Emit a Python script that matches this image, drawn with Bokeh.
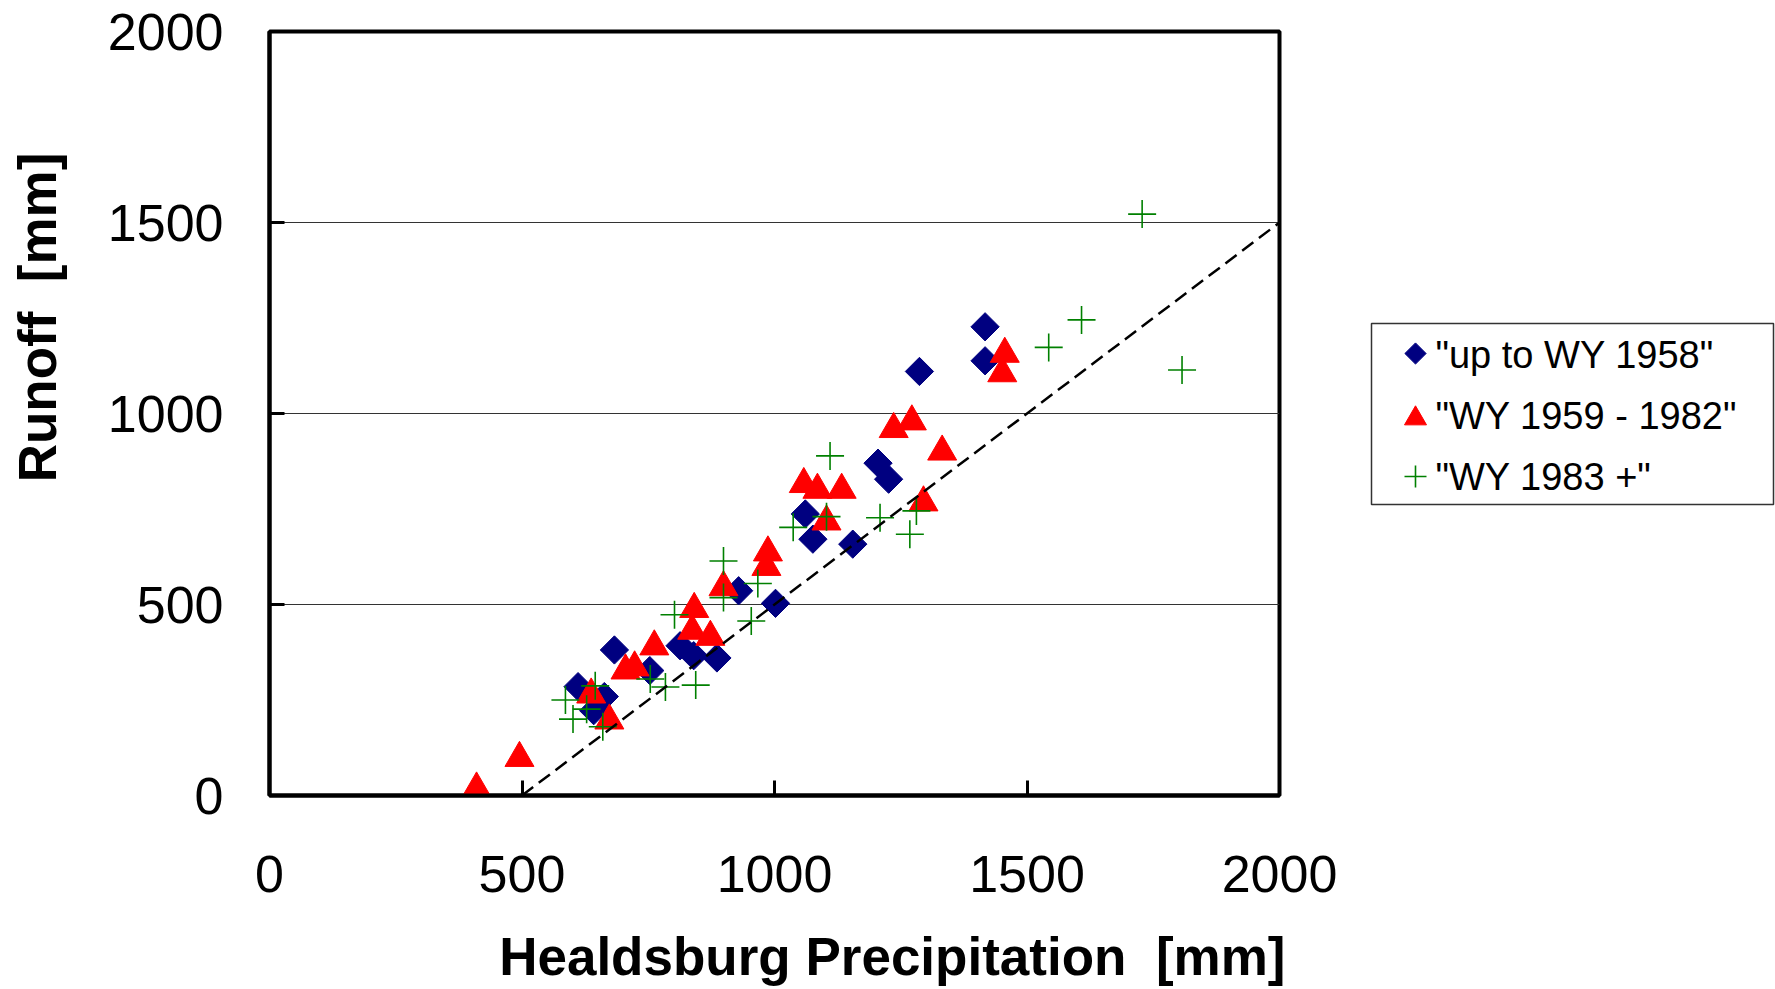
from bokeh.plotting import figure
from bokeh.models import Range1d, FixedTicker
from bokeh.core.properties import value
from bokeh.layouts import row
from bokeh.embed import file_html
from bokeh.resources import INLINE
import math

# ---- data ----
tick_values = [0, 500, 1000, 1500, 2000]

early_x = [611, 642, 663, 683, 753, 813, 840, 886, 929, 1002, 1061, 1076, 1155, 1205, 1226, 1287, 1417, 1417]
early_y = [285, 222, 259, 381, 327, 392, 366, 360, 536, 503, 737, 671, 658, 870, 828, 1110, 1138, 1227]

mid_x = [410, 495, 637, 673, 705, 723, 762, 837, 841, 873, 899, 984, 987, 1058, 1085, 1103, 1133, 1236, 1272, 1295, 1332, 1451, 1456]
mid_y = [18, 98, 264, 196, 327, 335, 390, 431, 488, 415, 545, 598, 636, 815, 800, 717, 800, 959, 979, 767, 900, 1105, 1156]

late_x = [586, 601, 628, 645, 660, 754, 784, 802, 844, 899, 899, 954, 967, 1037, 1103, 1110, 1209, 1268, 1281, 1543, 1608, 1728, 1807]
late_y = [250, 200, 226, 287, 180, 305, 284, 473, 289, 614, 518, 457, 555, 702, 730, 889, 727, 684, 745, 1173, 1245, 1522, 1114]

line_x = [500, 2000]
line_y = [0, 1500]

labels = ['"up to WY 1958"', '"WY 1959 - 1982"', '"WY 1983 +"']
x_title = "Healdsburg Precipitation \u00a0[mm]"
y_title = "Runoff \u00a0[mm]"

FONT = "Liberation Sans"
NAVY, RED, GREEN = "#000080", "#FF0000", "#008000"

# page geometry (pixels)
LEFT_W = 100          # strip holding the y-axis title
MAIN_W = 1249         # scatter plot (frame spans page x 269..1279)
LEG_W = 1775 - LEFT_W - MAIN_W
FRAME_TOP, FRAME_BOTTOM = 31, 795

# ---------------- y-axis title strip ----------------
ql = figure(width=LEFT_W, height=989, output_backend="svg", toolbar_location=None,
            x_range=Range1d(0, LEFT_W), y_range=Range1d(FRAME_BOTTOM, FRAME_TOP),
            x_axis_type=None, y_axis_type=None,
            min_border_left=0, min_border_right=0, min_border_top=0, min_border_bottom=0)
ql.outline_line_color = None
ql.grid.visible = False
ql.text([37], [317], text=[y_title], angle=math.pi / 2,
        text_font=value(FONT), text_font_size="53px", text_font_style="bold",
        text_color="black", text_align="center", text_baseline="middle")

# ---------------- main scatter plot ----------------
p = figure(width=MAIN_W, height=989, output_backend="svg", toolbar_location=None,
           x_range=Range1d(0, 2000), y_range=Range1d(0, 2000),
           min_border_left=269 - LEFT_W, min_border_right=LEFT_W + MAIN_W - 1279,
           min_border_top=FRAME_TOP, min_border_bottom=989 - FRAME_BOTTOM)
p.background_fill_color = "white"
p.border_fill_color = "white"
p.outline_line_color = "black"
p.outline_line_width = 4

for ax in (p.xaxis[0], p.yaxis[0]):
    ax.ticker = FixedTicker(ticks=tick_values)
    ax.minor_tick_line_color = None
    ax.major_tick_in = 15
    ax.major_tick_out = 0
    ax.major_tick_line_width = 3
    ax.major_tick_line_color = "black"
    ax.axis_line_width = 4
    ax.axis_line_color = "black"
    ax.major_label_text_font = FONT
    ax.major_label_text_font_size = "52px"
    ax.major_label_text_color = "black"

p.xaxis.major_label_standoff = 60
p.yaxis.major_label_standoff = 46

# x-axis title: leading no-break spaces shift it right, as in the reference
p.xaxis.axis_label = "\u00a0" * 16 + x_title
p.xaxis.axis_label_standoff = 32
p.xaxis.axis_label_text_font = FONT
p.xaxis.axis_label_text_font_size = "53px"
p.xaxis.axis_label_text_font_style = "bold"
p.xaxis.axis_label_text_color = "black"

p.xgrid.visible = False
p.ygrid.grid_line_color = "#333333"
p.ygrid.grid_line_width = 1

p.scatter(early_x, early_y, marker="square", size=20, angle=math.pi / 4,
          fill_color=NAVY, line_color=NAVY)
p.scatter(mid_x, mid_y, marker="triangle", size=29, fill_color=RED, line_color=RED)
p.scatter(late_x, late_y, marker="cross", size=28, line_color=GREEN, line_width=1.6)
p.line(line_x, line_y, line_color="black", line_width=2.5, line_dash="14 7")

# ---------------- legend strip ----------------
q = figure(width=LEG_W, height=989, output_backend="svg", toolbar_location=None,
           x_range=Range1d(0, LEG_W), y_range=Range1d(FRAME_BOTTOM, FRAME_TOP),
           x_axis_type=None, y_axis_type=None,
           min_border_left=0, min_border_right=0, min_border_top=0, min_border_bottom=0)
q.outline_line_color = None
q.grid.visible = False

x0 = LEFT_W + MAIN_W
q.quad(left=[1371 - x0], right=[1773 - x0], top=[323], bottom=[504],
       fill_color="white", line_color="#333333", line_width=1.5)
q.scatter([1415 - x0], [353], marker="square", size=15, angle=math.pi / 4,
          fill_color=NAVY, line_color=NAVY)
q.scatter([1415 - x0], [418], marker="triangle", size=22, fill_color=RED, line_color=RED)
q.scatter([1415 - x0], [476], marker="cross", size=22, line_color=GREEN, line_width=1.6)
q.text([1435 - x0] * 3, [354, 415, 476], text=labels,
       text_font=value(FONT), text_font_size="38px", text_color="black",
       text_align="left", text_baseline="middle")

layout = row(ql, p, q, spacing=0)
open("out.html", "w").write(file_html(layout, INLINE))
